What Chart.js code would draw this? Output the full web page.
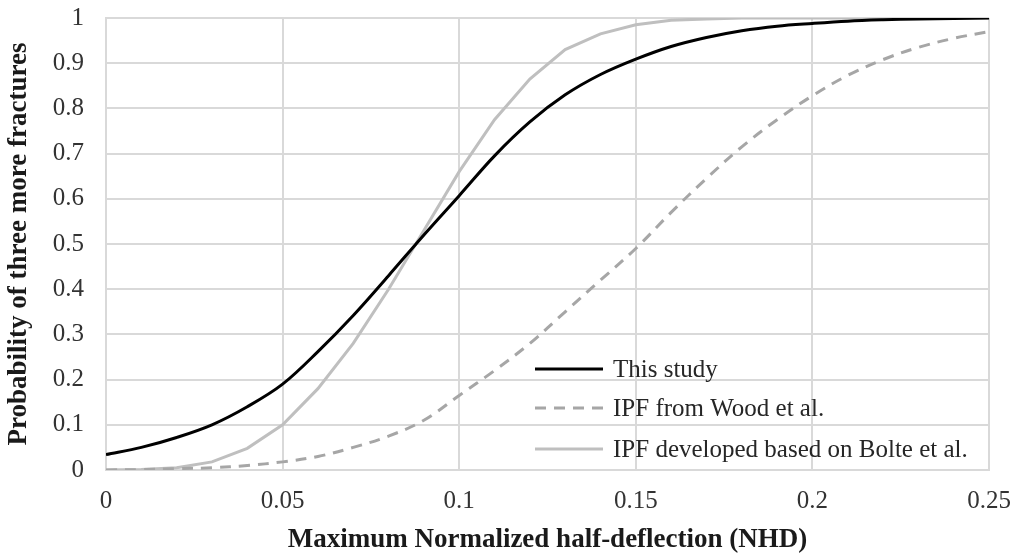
<!DOCTYPE html>
<html>
<head>
<meta charset="utf-8">
<script src="https://cdn.jsdelivr.net/npm/chart.js@4.4.1/dist/chart.umd.min.js"></script>
<style>
  html, body { margin: 0; padding: 0; background: #fff; }
  #wrap { width: 1015px; height: 556px; position: relative; }
</style>
</head>
<body>
<div id="wrap"><canvas id="chart"></canvas></div>
<script>
// x positions (NHD) and the three probability curves
const nhd = [0, 0.01, 0.02, 0.03, 0.04, 0.05, 0.06, 0.07, 0.08, 0.09, 0.10, 0.11, 0.12,
             0.13, 0.14, 0.15, 0.16, 0.17, 0.18, 0.19, 0.20, 0.21, 0.22, 0.23, 0.24, 0.25];

const thisStudy = [0.034, 0.05, 0.072, 0.10, 0.14, 0.19, 0.262, 0.342, 0.43, 0.52, 0.607, 0.695,
                   0.77, 0.83, 0.875, 0.909, 0.937, 0.957, 0.972, 0.982, 0.988, 0.993, 0.996, 0.998, 0.999, 1.0];

const woodIPF = [0, 0.001, 0.003, 0.005, 0.01, 0.018, 0.03, 0.05, 0.075, 0.11, 0.165, 0.22,
                 0.28, 0.35, 0.42, 0.49, 0.57, 0.645, 0.715, 0.775, 0.828, 0.873, 0.908, 0.935, 0.955, 0.97];

const bolteIPF = [0, 0.001, 0.005, 0.018, 0.048, 0.10, 0.18, 0.28, 0.40, 0.53, 0.66, 0.775,
                  0.865, 0.93, 0.965, 0.985, 0.995, 0.998, 1, 1, 1, 1, 1, 1, 1, 1];

const seriesNames = ['This study', 'IPF from Wood et al.', 'IPF developed based on Bolte et al.'];

const xTicks = [0, 0.05, 0.1, 0.15, 0.2, 0.25];

const serif = "'Liberation Serif', 'Times New Roman', serif";

function toPoints(values) {
    return values.map((v, i) => ({ x: nhd[i], y: v }));
}

// legend drawn inside the plot, bottom right, like the original
const insideLegend = {
    id: 'insideLegend',
    afterDraw(chart) {
        const ctx = chart.ctx;
        const lineX0 = 535, lineX1 = 603, textX = 613;
        const rows = [369, 408, 449];
        ctx.save();
        chart.data.datasets.forEach((ds, i) => {
            const y = rows[i];
            ctx.beginPath();
            ctx.strokeStyle = ds.borderColor;
            ctx.lineWidth = ds.borderWidth;
            ctx.setLineDash(ds.borderDash || []);
            ctx.moveTo(lineX0, y);
            ctx.lineTo(lineX1, y);
            ctx.stroke();
            ctx.setLineDash([]);
            ctx.fillStyle = '#262626';
            ctx.font = '25px ' + serif;
            ctx.textBaseline = 'middle';
            ctx.fillText(ds.label, textX, y + 1);
        });
        ctx.restore();
    }
};

const ctx = document.getElementById('chart').getContext('2d');

new Chart(ctx, {
    type: 'line',
    data: {
        datasets: [
            {
                label: seriesNames[0],
                data: toPoints(thisStudy),
                borderColor: '#000000',
                borderWidth: 3,
                tension: 0.35,
                pointRadius: 0
            },
            {
                label: seriesNames[1],
                data: toPoints(woodIPF),
                borderColor: '#a6a6a6',
                borderWidth: 3,
                borderDash: [11, 8],
                tension: 0.35,
                pointRadius: 0
            },
            {
                label: seriesNames[2],
                data: toPoints(bolteIPF),
                borderColor: '#bfbfbf',
                borderWidth: 3,
                tension: 0,
                pointRadius: 0
            }
        ]
    },
    options: {
        responsive: true,
        maintainAspectRatio: false,
        animation: false,
        layout: { padding: { left: 0, right: 26, top: 18, bottom: 0 } },
        plugins: {
            legend: { display: false },
            tooltip: { enabled: false }
        },
        scales: {
            x: {
                type: 'linear',
                min: 0,
                max: 0.25,
                afterBuildTicks: scale => { scale.ticks = xTicks.map(v => ({ value: v })); },
                afterFit: scale => {
                    scale.height = 86;
                    scale.paddingLeft = 0;
                    scale.paddingRight = 0;
                },
                grid: { color: '#d9d9d9', lineWidth: 2, drawTicks: false },
                border: { color: '#d9d9d9', width: 2 },
                ticks: {
                    padding: 16,
                    color: '#333333',
                    font: { family: serif, size: 25 },
                    callback: v => String(Number(v.toFixed(2)))
                },
                title: {
                    display: true,
                    text: 'Maximum Normalized half-deflection (NHD)',
                    color: '#1a1a1a',
                    font: { family: serif, size: 27, weight: 'bold' },
                    padding: { top: 0, bottom: 0 }
                }
            },
            y: {
                min: 0,
                max: 1,
                afterFit: scale => {
                    scale.width = 106;
                    scale.paddingTop = 0;
                    scale.paddingBottom = 0;
                },
                grid: { color: '#d9d9d9', lineWidth: 2, drawTicks: false },
                border: { color: '#d9d9d9', width: 2 },
                ticks: {
                    stepSize: 0.1,
                    padding: 22,
                    color: '#333333',
                    font: { family: serif, size: 25 },
                    callback: v => String(Number(v.toFixed(1)))
                },
                title: {
                    display: true,
                    text: 'Probability of three more fractures',
                    color: '#1a1a1a',
                    font: { family: serif, size: 27, weight: 'bold' },
                    padding: { top: 3, bottom: 0 }
                }
            }
        }
    },
    plugins: [insideLegend]
});
</script>
</body>
</html>
